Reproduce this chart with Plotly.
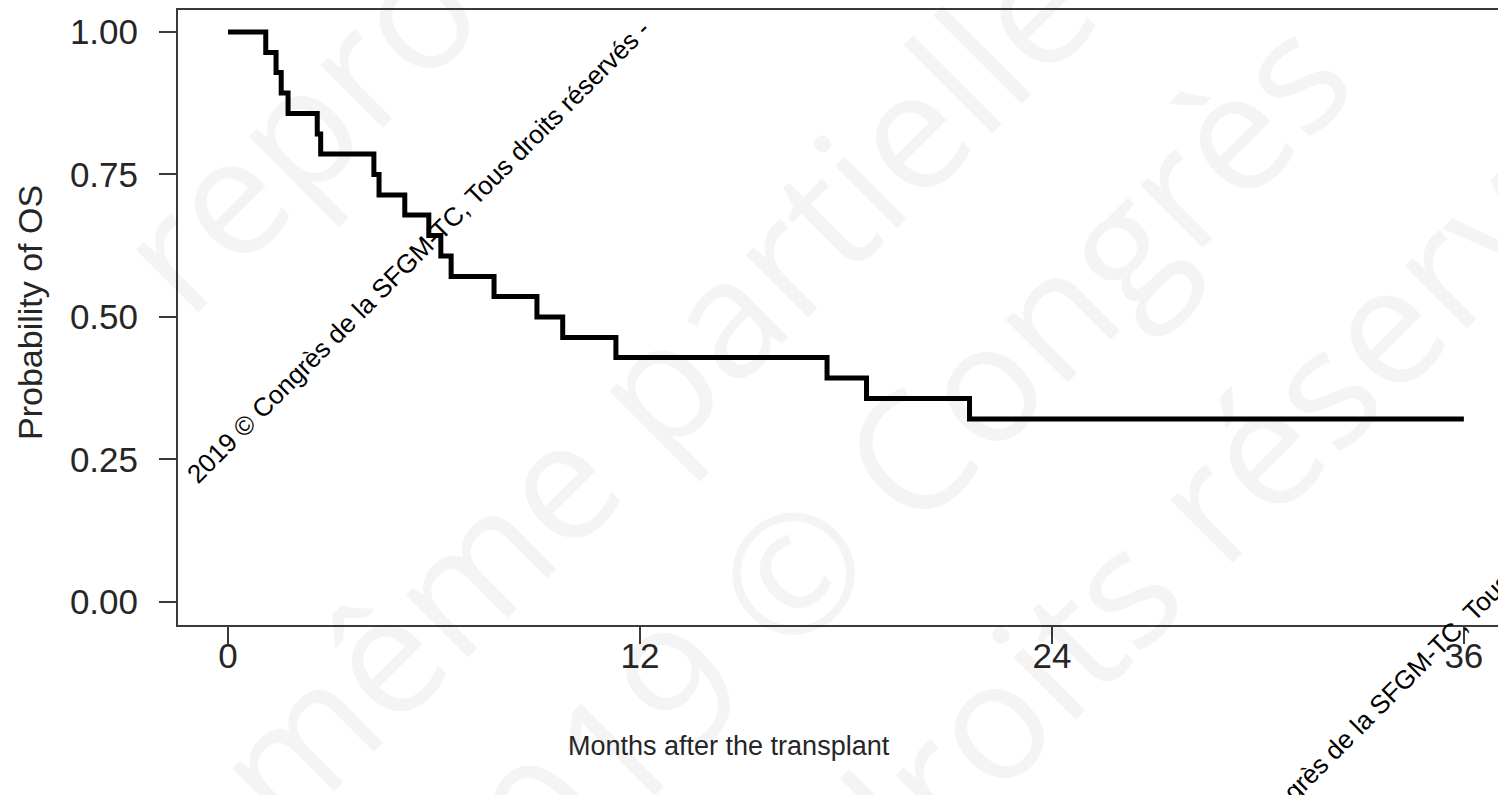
import plotly.graph_objects as go

# ---- data ----
death_months = [1.1, 1.4, 1.55, 1.75, 2.6, 2.7, 4.25, 4.4, 5.15, 5.85, 6.2, 6.5,
                7.75, 9.0, 9.75, 11.3, 17.45, 18.6, 21.6]
survival = [0.964, 0.929, 0.893, 0.857, 0.821, 0.786, 0.750, 0.714, 0.679, 0.643,
            0.607, 0.571, 0.536, 0.500, 0.464, 0.429, 0.393, 0.357, 0.321]
last_followup = 36
x_ticks = [0, 12, 24, 36]
y_ticks = [0, 0.25, 0.5, 0.75, 1.0]
y_ticklabels = ["0.00", "0.25", "0.50", "0.75", "1.00"]

W, H = 1498, 795
ML, MR, MT, MB = 178, 0, 10, 170
PW, PH = W - ML - MR, H - MT - MB


def paper(px, py):
    return (px - ML) / PW, (H - MB - py) / PH


xs = [0] + death_months + [last_followup]
ys = [1.0] + survival + [survival[-1]]

fig = go.Figure()
fig.add_trace(go.Scatter(x=xs, y=ys, mode="lines",
                         line=dict(shape="hv", color="black", width=5),
                         hoverinfo="skip", showlegend=False))

annotations = []
# large faint watermark
wm_color = "rgba(0,0,0,0.045)"
big = [
    ("reproduction", (500, -80), 165),
    ("même partielle", (650, 385), 165),
    ("2019 © Congrès", (880, 480), 165),
    ("droits réservés", (1235, 470), 165),
]
for txt, (px, py), sz in big:
    ax, ay = paper(px, py)
    annotations.append(dict(text=txt, x=ax, y=ay, xref="paper", yref="paper",
                            showarrow=False, textangle=-45,
                            font=dict(family="Open Sans", size=sz, color=wm_color),
                            xanchor="center", yanchor="middle"))

# small black watermarks
wm_text = "2019 © Congrès de la SFGM-TC, Tous droits réservés -"
for px, py in [(418, 252), (1416, 668)]:
    ax, ay = paper(px, py)
    annotations.append(dict(text=wm_text, x=ax, y=ay, xref="paper", yref="paper",
                            showarrow=False, textangle=-45,
                            font=dict(family="Liberation Sans", size=26, color="black"),
                            xanchor="center", yanchor="middle"))

# axis titles
ax, ay = paper(729, 746)
annotations.append(dict(text="Months after the transplant", x=ax, y=ay,
                        xref="paper", yref="paper", showarrow=False,
                        xanchor="center", yanchor="middle",
                        font=dict(family="Liberation Sans", size=27, color="#262626")))
ax, ay = paper(30, 313)
annotations.append(dict(text="Probability of OS", x=ax, y=ay, textangle=-90,
                        xref="paper", yref="paper", showarrow=False,
                        xanchor="center", yanchor="middle",
                        font=dict(family="Liberation Sans", size=34, color="#262626")))

axis_common = dict(showgrid=False, zeroline=False, showline=True,
                   linecolor="#3a3a3a", linewidth=2, ticks="outside",
                   ticklen=17, tickwidth=2, tickcolor="#3a3a3a",
                   tickfont=dict(family="Liberation Sans", size=35, color="#262626"))

fig.update_layout(
    width=W, height=H,
    margin=dict(l=ML, r=MR, t=MT, b=MB),
    paper_bgcolor="white", plot_bgcolor="rgba(0,0,0,0)",
    xaxis=dict(range=[-1.456, -1.456 + PW / 34.33], tickvals=x_ticks,
               mirror=True, ticklabelstandoff=-18, **axis_common),
    yaxis=dict(range=[-0.0404, 1.0386], tickvals=y_ticks, ticktext=y_ticklabels,
               mirror=False, ticklabelstandoff=14, **axis_common),
    annotations=annotations,
    showlegend=False,
)

fig.write_html("out.html", config={"displayModeBar": False},
               post_script="document.body.style.margin='0';"
                           "document.body.style.overflow='hidden';")
